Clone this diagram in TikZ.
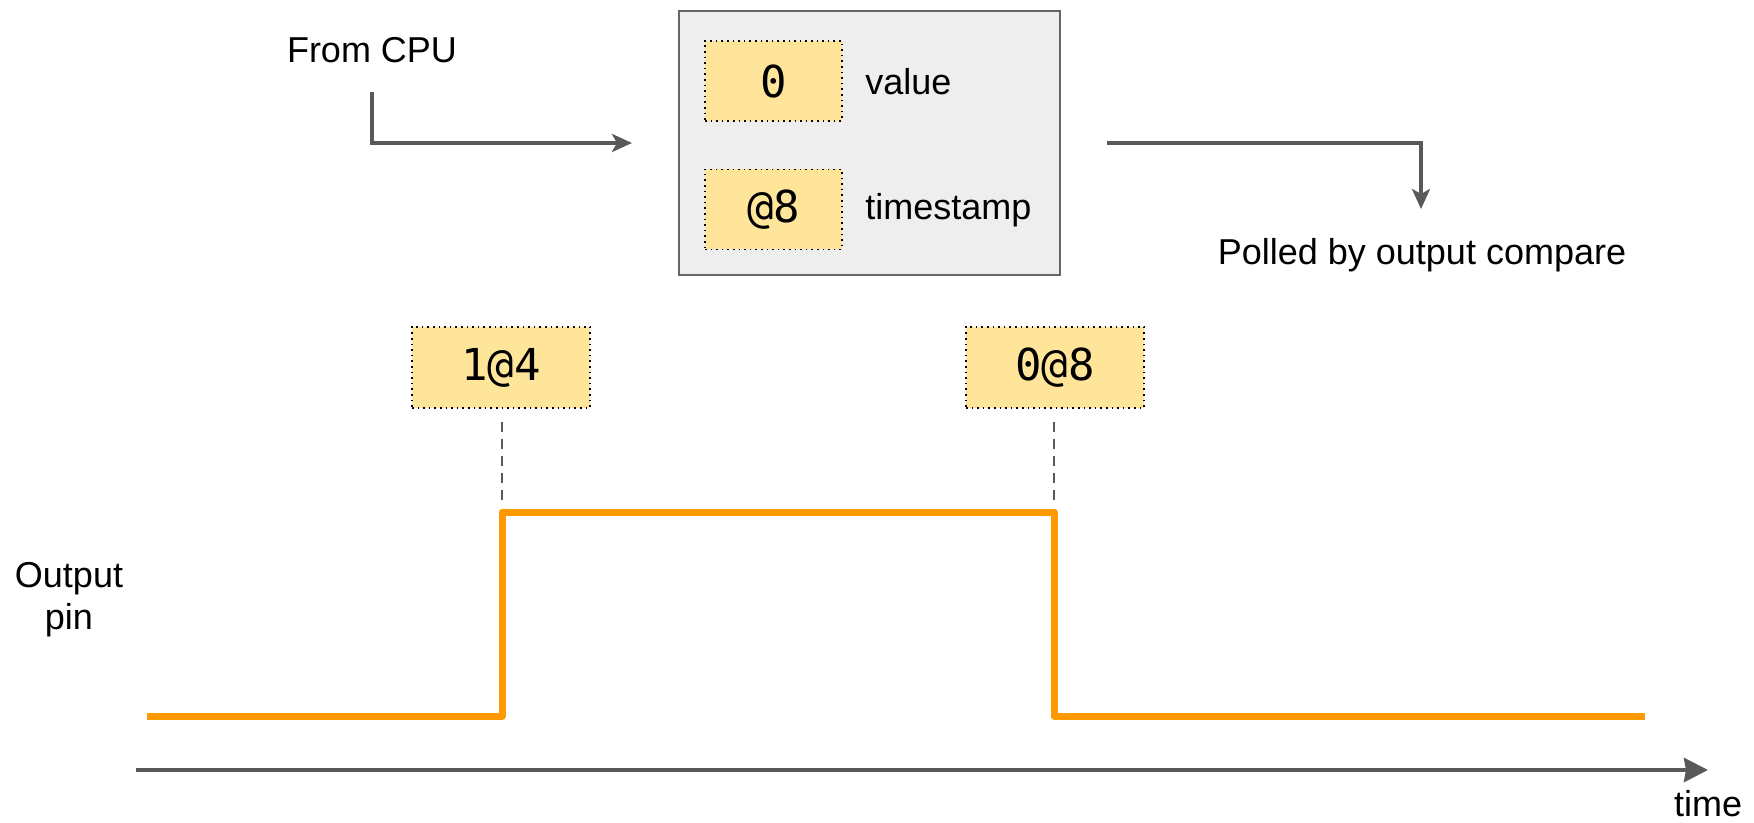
\documentclass[tikz,border=0pt]{standalone}
\usepackage{fontspec}
\setmainfont{Liberation Sans}
\newfontfamily\monof{DejaVu Sans Mono}
\usetikzlibrary{arrows.meta}
\definecolor{linegray}{HTML}{595959}
\definecolor{boxgray}{HTML}{EEEEEE}
\definecolor{bordergray}{HTML}{666666}
\definecolor{regyellow}{HTML}{FFE599}
\definecolor{sigorange}{HTML}{FF9900}
\tikzset{
  lbl/.style={font=\fontsize{18pt}{21pt}\selectfont, inner sep=0pt},
  regbox/.style={draw=bordergray, fill=boxgray, line width=1pt, minimum width=190.5pt, minimum height=132pt},
  cell/.style={draw=black, dotted, line width=0.8pt, fill=regyellow, font=\monof\fontsize{22pt}{25pt}\selectfont, inner sep=0pt},
  flow/.style={draw=linegray, line width=1.9pt, -{Stealth[length=10pt,width=9pt,inset=2.5pt]}},
  guide/.style={draw=linegray, line width=0.8pt, dash pattern=on 5pt off 3.5pt},
  signal/.style={draw=sigorange, line width=3.5pt, line join=round},
  axis/.style={draw=linegray, line width=2.2pt, -{Stealth[length=12pt,width=12pt,inset=1pt]}}
}
\begin{document}
\begin{tikzpicture}[x=0.5pt,y=-0.5pt]
\useasboundingbox (0,0) rectangle (1754,823);

% top: register
\node[lbl] (fromcpu) at (372,50) {From CPU};
\node[regbox] (reg) at (869.5,143) {};
\node[cell, minimum width=68.5pt, minimum height=40pt] (valbox) at (773.5,81) {0};
\node[cell, minimum width=68.5pt, minimum height=40pt] (tsbox) at (773.5,209.5) {@8};
\node[lbl, anchor=west] (valuelbl) at (865,82) {value};
\node[lbl, anchor=west] (tslbl) at (865,210) {timestamp};
\node[lbl] (polled) at (1422,255) {Polled by output compare};

\coordinate (cpustart) at (372,92);
\coordinate (inend) at (632,143);
\coordinate (outstart) at (1107,143);
\coordinate (outend) at (1421,209);
\draw[flow] (cpustart) |- (inend);
\draw[flow] (outstart) -| (outend);

% events
\node[cell, minimum width=89pt, minimum height=40.5pt] (ev1) at (501,367.5) {1@4};
\node[cell, minimum width=89pt, minimum height=40.5pt] (ev2) at (1055,367.5) {0@8};
\coordinate (g1a) at (502,422);
\coordinate (g1b) at (502,503);
\coordinate (g2a) at (1054,422);
\coordinate (g2b) at (1054,503);
\draw[guide] (g1a) -- (g1b);
\draw[guide] (g2a) -- (g2b);

% signal
\node[lbl, align=center] (outpin) at (69,600) {Output\\pin};
\coordinate (s0) at (147,716);
\coordinate (s1) at (502,716);
\coordinate (s2) at (502,512);
\coordinate (s3) at (1054,512);
\coordinate (s4) at (1054,716);
\coordinate (s5) at (1645,716);
\draw[signal] (s0) -- (s1) -- (s2) -- (s3) -- (s4) -- (s5);

% time axis
\coordinate (ax0) at (136,770);
\coordinate (ax1) at (1708,770);
\draw[axis] (ax0) -- (ax1);
\node[lbl] (timelbl) at (1708,804) {time};
\end{tikzpicture}
\end{document}
